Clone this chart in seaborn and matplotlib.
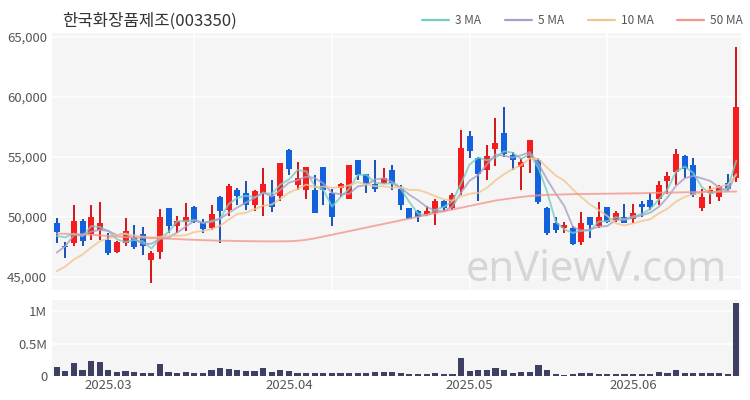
import numpy as np
import pandas as pd
import matplotlib
matplotlib.use("Agg")
import matplotlib.pyplot as plt
from matplotlib.lines import Line2D
import seaborn as sns

# ---------------- data ----------------
title = "한국화장품제조(003350)"
month_labels = ["2025.03", "2025.04", "2025.05", "2025.06"]
month_start_idx = [6, 27, 48, 67]          # candle index of first trading day of month

open_ = [49450, 47600, 47850, 49650, 48550, 48900, 48100, 47050, 47850, 48350,
         48600, 46400, 47050, 50750, 49250, 49550, 50850, 49550, 49100, 51650,
         50600, 52250, 51950, 51000, 52000, 51700, 51700, 55550, 52650, 52200,
         52200, 54150, 52000, 52400, 51450, 54700, 53550, 52700, 52850, 53900,
         52300, 50750, 50450, 50150, 50300, 51300, 50750, 52350, 56700, 54900,
         53900, 55650, 57000, 55150, 54150, 54850, 54700, 50700, 49500, 49100,
         49100, 47900, 49950, 49250, 50800, 49750, 50000, 49850, 51100, 51400,
         51500, 53000, 53750, 55050, 54350, 50700, 51950, 51650, 52800, 53200]
high = [49900, 47900, 51000, 49800, 51000, 51250, 48650, 48000, 49900, 49300,
        49150, 47150, 50650, 50750, 50050, 51150, 50900, 49850, 51000, 51700,
        52700, 52400, 52950, 52250, 54050, 53100, 54450, 55600, 54550, 54150,
        53450, 54150, 52350, 52850, 54300, 54700, 53600, 54700, 54050, 54300,
        52650, 50750, 50550, 50900, 51500, 51400, 51950, 57200, 57100, 55000,
        56000, 58200, 59150, 55400, 54850, 56400, 54850, 50800, 50000, 49600,
        49250, 50400, 50000, 51250, 50850, 50500, 51100, 51050, 51350, 51950,
        53000, 53750, 55600, 55100, 54900, 52350, 52550, 52650, 53550, 64100]
low = [47800, 46600, 47550, 47550, 48100, 48100, 46800, 47000, 47550, 47300,
       46800, 44450, 46450, 48650, 48650, 48800, 49500, 48650, 48900, 47800,
       50050, 51000, 50600, 50450, 50050, 50400, 51300, 53450, 52200, 51500,
       50300, 50950, 49250, 51650, 51450, 53050, 52000, 52100, 52700, 52200,
       50550, 49800, 49600, 50100, 49350, 50450, 50550, 51850, 54850, 51300,
       53050, 54250, 55000, 53900, 52200, 53650, 51100, 48500, 48650, 48650,
       47650, 47650, 48200, 49100, 49450, 49600, 49450, 49500, 50000, 50550,
       50950, 51900, 52650, 53250, 51650, 50500, 51100, 51350, 52150, 52900]
close = [48700, 47450, 49650, 48000, 50000, 49450, 47000, 47900, 48800, 47500,
         47600, 46950, 50000, 49250, 49650, 50000, 49550, 48950, 50200, 50450,
         52550, 51700, 51000, 52150, 52750, 50850, 54450, 54000, 53200, 54150,
         50350, 52200, 50000, 52700, 54300, 53450, 52750, 52300, 53200, 52850,
         50950, 49850, 50000, 50450, 51300, 50700, 51850, 55750, 55450, 53600,
         55050, 56100, 55200, 54700, 54550, 56400, 51250, 48650, 48900, 49300,
         47750, 49500, 49300, 50000, 49600, 50300, 49500, 50300, 50850, 50800,
         52650, 53400, 55200, 53950, 51800, 51650, 52250, 52550, 52350, 59100]
# closes of the 9 sessions before the window (inferred from where the MA lines start)
prior_close = [43500, 43800, 44000, 44100, 44200, 44700, 45150, 47800, 48700]

volume = [140000, 70000, 200000, 90000, 230000, 220000, 90000, 60000, 70000, 60000,
          40000, 50000, 180000, 60000, 50000, 60000, 50000, 40000, 90000, 120000,
          110000, 90000, 80000, 80000, 120000, 60000, 100000, 80000, 50000, 50000,
          50000, 40000, 40000, 40000, 40000, 40000, 40000, 60000, 60000, 60000,
          50000, 30000, 30000, 35000, 40000, 30000, 30000, 270000, 70000, 100000,
          100000, 130000, 100000, 50000, 60000, 60000, 170000, 90000, 30000, 20000,
          30000, 40000, 40000, 35000, 30000, 30000, 30000, 30000, 30000, 35000,
          60000, 50000, 100000, 50000, 50000, 50000, 40000, 40000, 30000, 1120000]

ma50 = [48600, 48580, 48560, 48540, 48500, 48450, 48400, 48350, 48300, 48270,
        48250, 48220, 48200, 48170, 48150, 48100, 48080, 48050, 48030, 48000,
        48000, 47980, 47970, 47960, 47950, 47950, 47950, 47960, 48000, 48080,
        48200, 48350, 48500, 48650, 48800, 48950, 49100, 49250, 49400, 49550,
        49700, 49850, 50000, 50150, 50300, 50450, 50600, 50750, 50900, 51050,
        51200, 51350, 51450, 51550, 51650, 51720, 51780, 51820, 51840, 51860,
        51880, 51890, 51900, 51910, 51920, 51930, 51940, 51950, 51960, 51980,
        52000, 52010, 52020, 52040, 52050, 52060, 52070, 52080, 52090, 52100]

# ---------------- derived ----------------
n = len(close)
idx = np.arange(n)
o = np.array(open_, float); h = np.array(high, float)
l = np.array(low, float); c = np.array(close, float)
full_close = pd.Series(prior_close + close, dtype=float)
k = len(prior_close)
ma = pd.DataFrame({
    "idx": idx,
    "3 MA": full_close.rolling(3).mean().values[k:],
    "5 MA": full_close.rolling(5).mean().values[k:],
    "10 MA": full_close.rolling(10).mean().values[k:],
    "50 MA": ma50,
})
ma_long = ma.melt(id_vars="idx", var_name="ma", value_name="price")
palette = {"3 MA": "#74cdc3", "5 MA": "#a99fc6", "10 MA": "#f0c68e", "50 MA": "#f4968b"}

# ---------------- style ----------------
sns.set_style("whitegrid")
plt.rcParams["font.family"] = ["Noto Sans CJK KR", "DejaVu Sans"]

fig = plt.figure(figsize=(7.5, 4), dpi=100)
W, H = 750, 400
ax = fig.add_axes([52 / W, 1 - 290 / H, (741 - 52) / W, (290 - 33) / H])
axv = fig.add_axes([52 / W, 1 - 376 / H, (741 - 52) / W, (376 - 300) / H])

bg = "#f5f5f5"
for a in (ax, axv):
    a.set_facecolor(bg)
    for s in a.spines.values():
        s.set_visible(False)
    a.tick_params(length=0, labelsize=9.5, colors="#555555")

# candles
up = c >= o
body_col = np.where(up, "#f41c1c", "#1262dd")
wick_col = np.where(up, "#d3141a", "#1a50b6")
ax.vlines(idx, l, h, colors=wick_col, lw=1.4, zorder=3)
body_bot = np.minimum(o, c)
body_h = np.maximum(np.abs(c - o), 90)
ax.bar(idx, body_h, bottom=body_bot, width=0.7, color=body_col, linewidth=0, zorder=4)

# moving averages
sns.lineplot(data=ma_long, x="idx", y="price", hue="ma", palette=palette,
             hue_order=list(palette), ax=ax, lw=1.35, alpha=0.8, legend=False,
             zorder=5)

ax.set_xlim(-0.55, n - 0.45)
ax.set_ylim(43900, 65300)
ax.set_yticks([45000, 50000, 55000, 60000, 65000])
ax.set_yticklabels([f"{v:,}" for v in [45000, 50000, 55000, 60000, 65000]])
ax.set_xticks([])
ax.set_xlabel(""); ax.set_ylabel("")
ax.grid(axis="y", color="white", lw=1.1)
ax.grid(axis="x", visible=False)
for gx in (16, 32, 48, 64):
    ax.axvline(gx, color="white", lw=1.1, zorder=0.5)

ax.text(0.795, 0.325, "enViewV.com", transform=fig.transFigure, fontsize=30,
        color="#d6d6d6", ha="center", va="center", family="Noto Sans", zorder=1)

# volume
sns.barplot(x=idx, y=volume, native_scale=True, color="#3d3f63", saturation=1,
            width=0.72, ax=axv, linewidth=0, zorder=3)
axv.set_xlim(-0.55, n - 0.45)
axv.set_ylim(0, 1170000)
axv.set_yticks([0, 500000, 1000000])
axv.set_yticklabels(["0", "0.5M", "1M"])
axv.set_xticks(month_start_idx)
axv.set_xticklabels(month_labels)
axv.tick_params(axis="x", pad=2)
axv.set_xlabel(""); axv.set_ylabel("")
axv.grid(axis="y", color="white", lw=1.1)
axv.grid(axis="x", visible=False)

# title and legend
fig.text(62 / W, 1 - 21 / H, title, fontsize=12, color="#333333", va="center")
handles = [Line2D([0], [0], color=palette[m], lw=1.6) for m in palette]
fig.legend(handles, list(palette), loc="center right", bbox_to_anchor=(0.997, 1 - 21 / H),
           ncol=4, frameon=False, fontsize=8.5, handlelength=2.3, columnspacing=2.0,
           handletextpad=0.5, borderaxespad=0, labelcolor="#555555")

fig.savefig("out.png", dpi=100, facecolor="white")
